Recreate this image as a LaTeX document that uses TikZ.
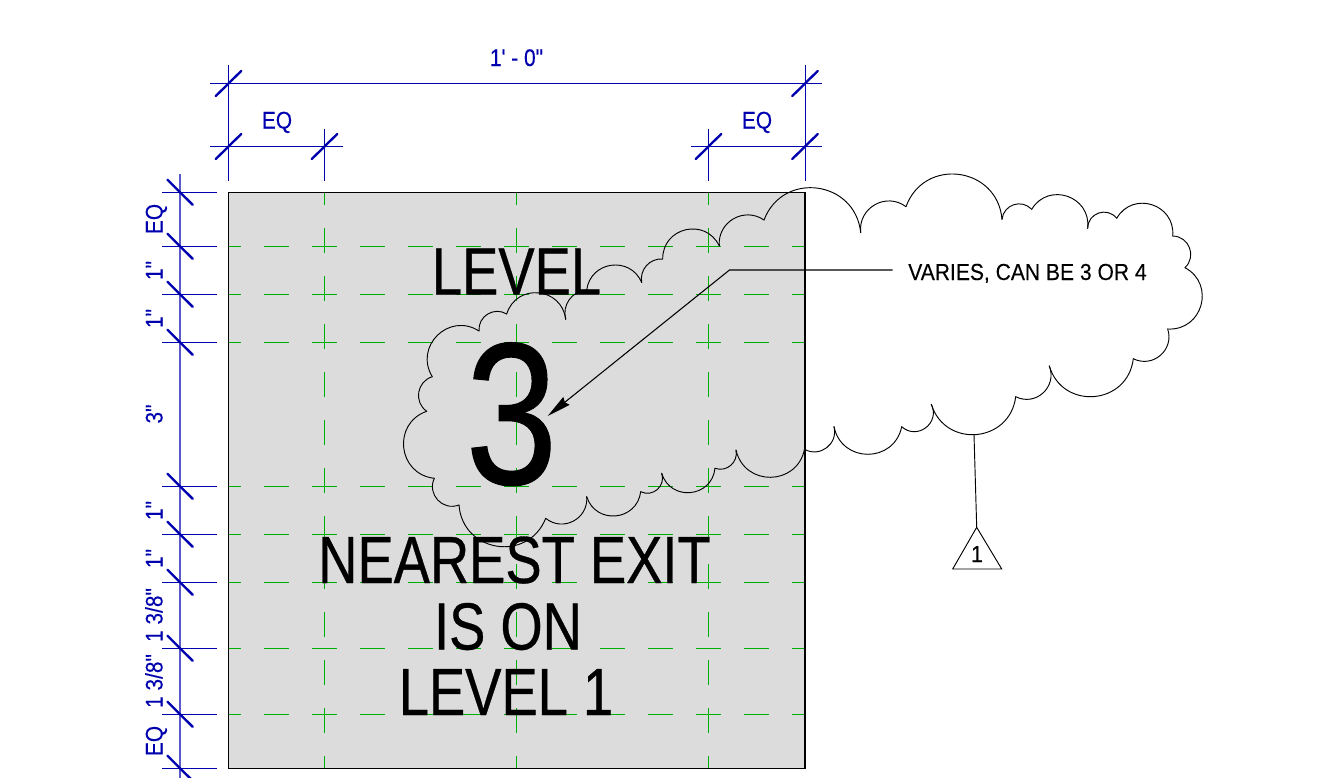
\documentclass[tikz,border=0pt]{standalone}
\usepackage{fontspec}
\setmainfont{Liberation Sans}
\newfontfamily\bigfont[FakeStretch=0.815,FakeBold=0.5]{Liberation Sans}
\newfontfamily\smallfont[FakeStretch=0.87,FakeBold=0.2]{Liberation Sans}
\newfontfamily\notefont[FakeStretch=0.908,FakeBold=0.2]{Liberation Sans}
\usetikzlibrary{arrows.meta}
\definecolor{dimblue}{RGB}{0,0,175}
\definecolor{gridgreen}{RGB}{0,176,0}
\definecolor{panel}{RGB}{220,220,220}
\tikzset{
  px/.style={x=0.75pt,y=-0.75pt},
  dimline/.style={draw=dimblue,line width=0.7pt},
  dimspine/.style={draw=dimblue!65,line width=0.9pt},
  tick/.style={draw=dimblue,line width=1.75pt,line cap=round},
  gridh/.style={draw=gridgreen,line width=0.75pt,dash pattern=on 18.4pt off 17.6pt,dash phase=9.2pt},
  cloudline/.style={draw=black,line width=0.7pt},
  leader/.style={draw=black,line width=0.8pt},
  bigtext/.style={anchor=base,inner sep=0pt,text=black,font=\bigfont\fontsize{50}{50}\selectfont},
  dimtext/.style={anchor=base,inner sep=0pt,text=dimblue,font=\smallfont\fontsize{18}{18}\selectfont},
  notetext/.style={anchor=base west,inner sep=0pt,text=black,font=\notefont\fontsize{17.4}{18}\selectfont},
}
\begin{document}
\begin{tikzpicture}[px]
\useasboundingbox (0,0) rectangle (1329,778);
% panel
\path[fill=panel] (228.5,192.3) rectangle (805,768.3);
% grid
\foreach \y in {246.3,294.3,342.3,486.3,534.3,582.3,648.3,714.3}
  \draw[gridh] (228.5,\y) -- (805,\y);
\foreach \x in {324.5,516.5,708.5}
  \draw[gridh] (\x,192.3) -- (\x,768.3);
\draw[line width=0.8pt] (228.5,192.3) rectangle (805,768.3);
% large text
\node[bigtext] (t1) at (516.5,294.5) {LEVEL};
\node[bigtext,font=\bigfont\fontsize{152}{152}\selectfont] (t2) at (511.5,484) {3};
\node[bigtext] (t3) at (514.5,583) {NEAREST EXIT};
\node[bigtext] (t4) at (508,649.5) {IS ON};
\node[bigtext] (t5) at (506,715) {LEVEL 1};
% horizontal dimensions
\draw[dimline] (210,83.5) -- (822,83.5);
\draw[dimline] (210,146.5) -- (342.5,146.5);
\draw[dimline] (691,146.5) -- (822,146.5);
\draw[dimline] (228.5,65) -- (228.5,180.7);
\draw[dimline] (805,65) -- (805,180.7);
\draw[dimline] (324.5,128.7) -- (324.5,180.7);
\draw[dimline] (708.5,128.7) -- (708.5,180.7);
\foreach \x/\y in {228.5/83.5,805/83.5,228.5/146.5,324.5/146.5,708.5/146.5,805/146.5}
  \draw[tick] (\x-12.7,\y+12.5) -- (\x+12.7,\y-12.5);
\node[dimtext] (d1) at (516.5,66) {1' - 0"};
\node[dimtext] (d2) at (277,128.5) {EQ};
\node[dimtext] (d3) at (757,128.5) {EQ};
% vertical dimension
\draw[dimspine] (180,174) -- (180,778);
\foreach \y in {192.3,246.3,294.3,342.3,486.3,534.3,582.3,648.3,714.3,768.3}{
  \draw[dimline] (162,\y) -- (216.7,\y);
  \draw[tick] (167.5,\y-12.5) -- (192.7,\y+12.5);
}
\foreach \y/\t in {219/EQ,270.5/{1"},318.5/{1"},414/{3"},510.5/{1"},558.5/{1"},615/{1 3/8"},681/{1 3/8"},741/EQ}
  \node[dimtext,rotate=90] at (162.5,\y) {\t};
% cloud
\foreach \bx/\by/\px/\py [remember=\bx as \ax (initially 565.7),remember=\by as \ay (initially 319.3)] in {
  506.7/314/535/292.7, 479/331/495/311.5, 432.3/376.7/460/325.7, 426.7/411.3/418.5/395,
  434.3/478.3/403.5/443.5, 459/505/433.5/493, 545.7/518.3/503/546.7, 586.7/496.7/561.7/524,
  640.7/491.7/613.3/516, 661.7/473.3/656.7/490, 715/468.3/688.3/492.7, 736/450/733/463,
  804.5/449.3/770/477.3, 834/426.7/817/451.7, 901.7/426.7/868.3/454.3, 931.3/404.3/923.3/429.3,
  1015.7/396.7/973.3/434.7, 1049.3/366/1026.7/399.3, 1133.3/358.7/1090/396.7, 1167.7/329/1145/361.3,
  1185/267.7/1202/300, 1172.7/236/1190.7/255, 1116.7/218.3/1141.7/203.3, 1087.7/228.3/1101.7/212.3,
  1031.7/209.3/1056.7/194.7, 1002/219.3/1017/204, 906/206.7/953/174, 860.7/232.7/888/201,
  764/220/810/187.7, 719.3/246/746/215, 662.7/259/691.7/229, 641.7/282.5/647/265,
  586.7/290/615/265, 565.7/319.3/569/300}{
  \pgfmathsetmacro\dx{(\bx-\ax)/100}
  \pgfmathsetmacro\dy{(\by-\ay)/100}
  \pgfmathsetmacro\c{sqrt(\dx*\dx+\dy*\dy)}
  \pgfmathsetmacro\ux{\dx/\c}
  \pgfmathsetmacro\uy{\dy/\c}
  \pgfmathsetmacro\vax{(\ax-\px)/100}
  \pgfmathsetmacro\vay{(\ay-\py)/100}
  \pgfmathsetmacro\vbx{(\bx-\px)/100}
  \pgfmathsetmacro\vby{(\by-\py)/100}
  \pgfmathsetmacro\ang{atan2(abs(\vax*\vby-\vay*\vbx),\vax*\vbx+\vay*\vby)}
  \pgfmathsetmacro\phi{180-\ang}
  \pgfmathsetmacro\L{100*(4/3)*tan(\phi/2)*\c/(2*sin(\phi))}
  \pgfmathsetmacro\cs{cos(\phi)}
  \pgfmathsetmacro\sn{sin(\phi)}
  \draw[cloudline,line cap=round] (\ax,\ay) .. controls
    ({\ax+\L*(\cs*\ux-\sn*\uy)},{\ay+\L*(\cs*\uy+\sn*\ux)}) and
    ({\bx+\L*(-\cs*\ux-\sn*\uy)},{\by+\L*(-\cs*\uy+\sn*\ux)}) .. (\bx,\by);
}
% note and leader
\node[notetext] (note) at (908,280) {VARIES, CAN BE 3 OR 4};
\coordinate (leadstart) at (892.5,270);
\coordinate (leadbend) at (729.5,270);
\coordinate (leadtip) at (547.7,416);
\draw[leader,-{Stealth[length=18pt,width=7.5pt,inset=1.5pt]}] (leadstart) -- (leadbend) -- (leadtip);
% revision tag
\coordinate (tagtop) at (974,434.5);
\coordinate (apex) at (976.7,527.3);
\coordinate (tl) at (952.7,569);
\coordinate (tr) at (1001.7,569);
\draw[leader,line width=0.7pt] (tagtop) -- (apex);
\draw[leader,line width=0.7pt,line join=miter] (apex) -- (tl) -- (tr) -- cycle;
\node[notetext,anchor=base] (tagnum) at (977,562) {1};
\end{tikzpicture}
\end{document}
